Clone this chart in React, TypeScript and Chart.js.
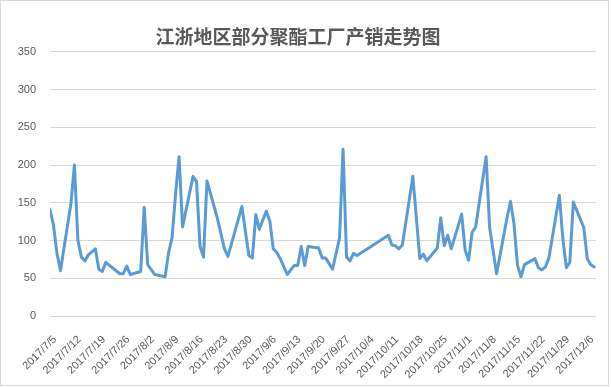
import React, { useEffect, useRef } from "react";
import { Chart, registerables } from "chart.js";

Chart.register(...registerables);

const titleText = "江浙地区部分聚酯工厂产销走势图";

const tickLabels = [
  "2017/7/5", "2017/7/12", "2017/7/19", "2017/7/26", "2017/8/2", "2017/8/9",
  "2017/8/16", "2017/8/23", "2017/8/30", "2017/9/6", "2017/9/13", "2017/9/20",
  "2017/9/27", "2017/10/4", "2017/10/11", "2017/10/18", "2017/10/25", "2017/11/1",
  "2017/11/8", "2017/11/15", "2017/11/22", "2017/11/29", "2017/12/6",
];

const dates = [
  "2017/7/5", "2017/7/6", "2017/7/7", "2017/7/8", "2017/7/11", "2017/7/12", "2017/7/13",
  "2017/7/14", "2017/7/15", "2017/7/16", "2017/7/18", "2017/7/19", "2017/7/20", "2017/7/21",
  "2017/7/25", "2017/7/26", "2017/7/27", "2017/7/28", "2017/7/31", "2017/8/1", "2017/8/2",
  "2017/8/4", "2017/8/7", "2017/8/8", "2017/8/9", "2017/8/10", "2017/8/11", "2017/8/12",
  "2017/8/15", "2017/8/16", "2017/8/17", "2017/8/18", "2017/8/19", "2017/8/22", "2017/8/24",
  "2017/8/25", "2017/8/29", "2017/8/31", "2017/9/1", "2017/9/2", "2017/9/3", "2017/9/5",
  "2017/9/6", "2017/9/7", "2017/9/8", "2017/9/9", "2017/9/11", "2017/9/13", "2017/9/14",
  "2017/9/15", "2017/9/16", "2017/9/17", "2017/9/20", "2017/9/21", "2017/9/22", "2017/9/24",
  "2017/9/26", "2017/9/27", "2017/9/28", "2017/9/29", "2017/9/30", "2017/10/1", "2017/10/10",
  "2017/10/11", "2017/10/12", "2017/10/13", "2017/10/14", "2017/10/17", "2017/10/19",
  "2017/10/20", "2017/10/21", "2017/10/24", "2017/10/25", "2017/10/26", "2017/10/27",
  "2017/10/28", "2017/10/31", "2017/11/1", "2017/11/2", "2017/11/3", "2017/11/4", "2017/11/7",
  "2017/11/8", "2017/11/10", "2017/11/13", "2017/11/14", "2017/11/15", "2017/11/16",
  "2017/11/17", "2017/11/18", "2017/11/21", "2017/11/22", "2017/11/23", "2017/11/24",
  "2017/11/25", "2017/11/28", "2017/11/29", "2017/11/30", "2017/12/1", "2017/12/2",
  "2017/12/5", "2017/12/6", "2017/12/7", "2017/12/8",
];

const values = [
  141, 120, 83, 60, 149, 200, 100,
  78, 73, 81, 89, 62, 59, 71,
  56, 56, 66, 55, 59, 144, 68,
  55, 52, 84, 104, 162, 211, 118,
  185, 178, 92, 78, 179, 129, 89,
  79, 145, 80, 77, 134, 115, 139,
  126, 89, 84, 76, 55, 67, 67,
  92, 67, 92, 90, 77, 77, 62,
  104, 221, 78, 73, 83, 80, 107,
  94, 93, 89, 94, 185, 76,
  82, 73, 90, 130, 93, 107,
  89, 135, 87, 74, 111, 118, 211,
  118, 56, 130, 152, 122, 67,
  52, 68, 76, 64, 61, 65,
  77, 160, 102, 64, 71, 151,
  117, 76, 68, 65,
];

const yTicks = [0, 50, 100, 150, 200, 250, 300, 350];

function dayOf(s: string): number {
  const [y, m, d] = s.split("/").map(Number);
  return Math.round(Date.UTC(y, m - 1, d) / 86400000);
}

export default function App() {
  const canvasRef = useRef<HTMLCanvasElement | null>(null);

  useEffect(() => {
    const canvas = canvasRef.current;
    if (!canvas) return;
    const base = dayOf(tickLabels[0]);
    const tickDays = tickLabels.map((s) => dayOf(s) - base);
    const points = dates.map((d, i) => ({ x: dayOf(d) - base, y: values[i] }));

    const borderPlugin = {
      id: "outerBorder",
      afterDraw(chart: any) {
        const { ctx, width, height } = chart;
        ctx.save();
        ctx.strokeStyle = "#d9d9d9";
        ctx.lineWidth = 1;
        ctx.strokeRect(0.5, 0.5, width - 3, height - 2);
        ctx.restore();
      },
    };
    const bgPlugin = {
      id: "bg",
      beforeDraw(chart: any) {
        const { ctx, width, height } = chart;
        ctx.save();
        ctx.fillStyle = "#ffffff";
        ctx.fillRect(0, 0, width, height);
        ctx.restore();
      },
    };

    const chart = new Chart(canvas, {
      type: "line",
      data: {
        datasets: [
          {
            data: points,
            borderColor: "#5b9bd5",
            borderWidth: 3,
            pointRadius: 0,
            tension: 0,
            borderJoinStyle: "round",
            borderCapStyle: "round",
            fill: false,
          },
        ],
      },
      options: {
        animation: false,
        responsive: false,
        maintainAspectRatio: false,
        layout: { padding: { top: 0, left: 0, right: 15, bottom: 0 } },
        plugins: {
          legend: { display: false },
          tooltip: { enabled: false },
          title: {
            display: true,
            text: titleText,
            color: "#595959",
            font: { family: "'Noto Sans CJK SC', sans-serif", size: 19, weight: "bold" },
            padding: { top: 25, bottom: 4 },
          },
        },
        scales: {
          x: {
            type: "linear",
            min: 0,
            max: 156.5,
            grid: { display: false },
            border: { display: false },
            afterBuildTicks: (scale: any) => {
              scale.ticks = tickDays.map((v) => ({ value: v }));
            },
            afterFit: (scale: any) => {
              scale.height = 71;
            },
            ticks: {
              autoSkip: false,
              minRotation: 45,
              maxRotation: 45,
              padding: 9,
              labelOffset: 5,
              color: "#595959",
              font: { family: "'Liberation Sans', sans-serif", size: 11 },
              callback: (value: any) => {
                const i = tickDays.indexOf(Number(value));
                return i >= 0 ? tickLabels[i] : "";
              },
            },
          },
          y: {
            min: 0,
            max: 350,
            grid: { color: "#d9d9d9", drawTicks: false },
            border: { display: false },
            afterBuildTicks: (scale: any) => {
              scale.ticks = yTicks.map((v) => ({ value: v }));
            },
            afterFit: (scale: any) => {
              scale.width = 50;
            },
            ticks: {
              padding: 14,
              color: "#595959",
              font: { family: "'Liberation Sans', sans-serif", size: 11 },
            },
          },
        },
      },
      plugins: [bgPlugin, borderPlugin],
    } as any);

    return () => chart.destroy();
  }, []);

  return (
    <div style={{ position: "fixed", left: 0, top: 0, width: 611, height: 387, background: "#fff" }}>
      <canvas ref={canvasRef} width={611} height={387} style={{ display: "block", width: 611, height: 387 }} />
    </div>
  );
}
